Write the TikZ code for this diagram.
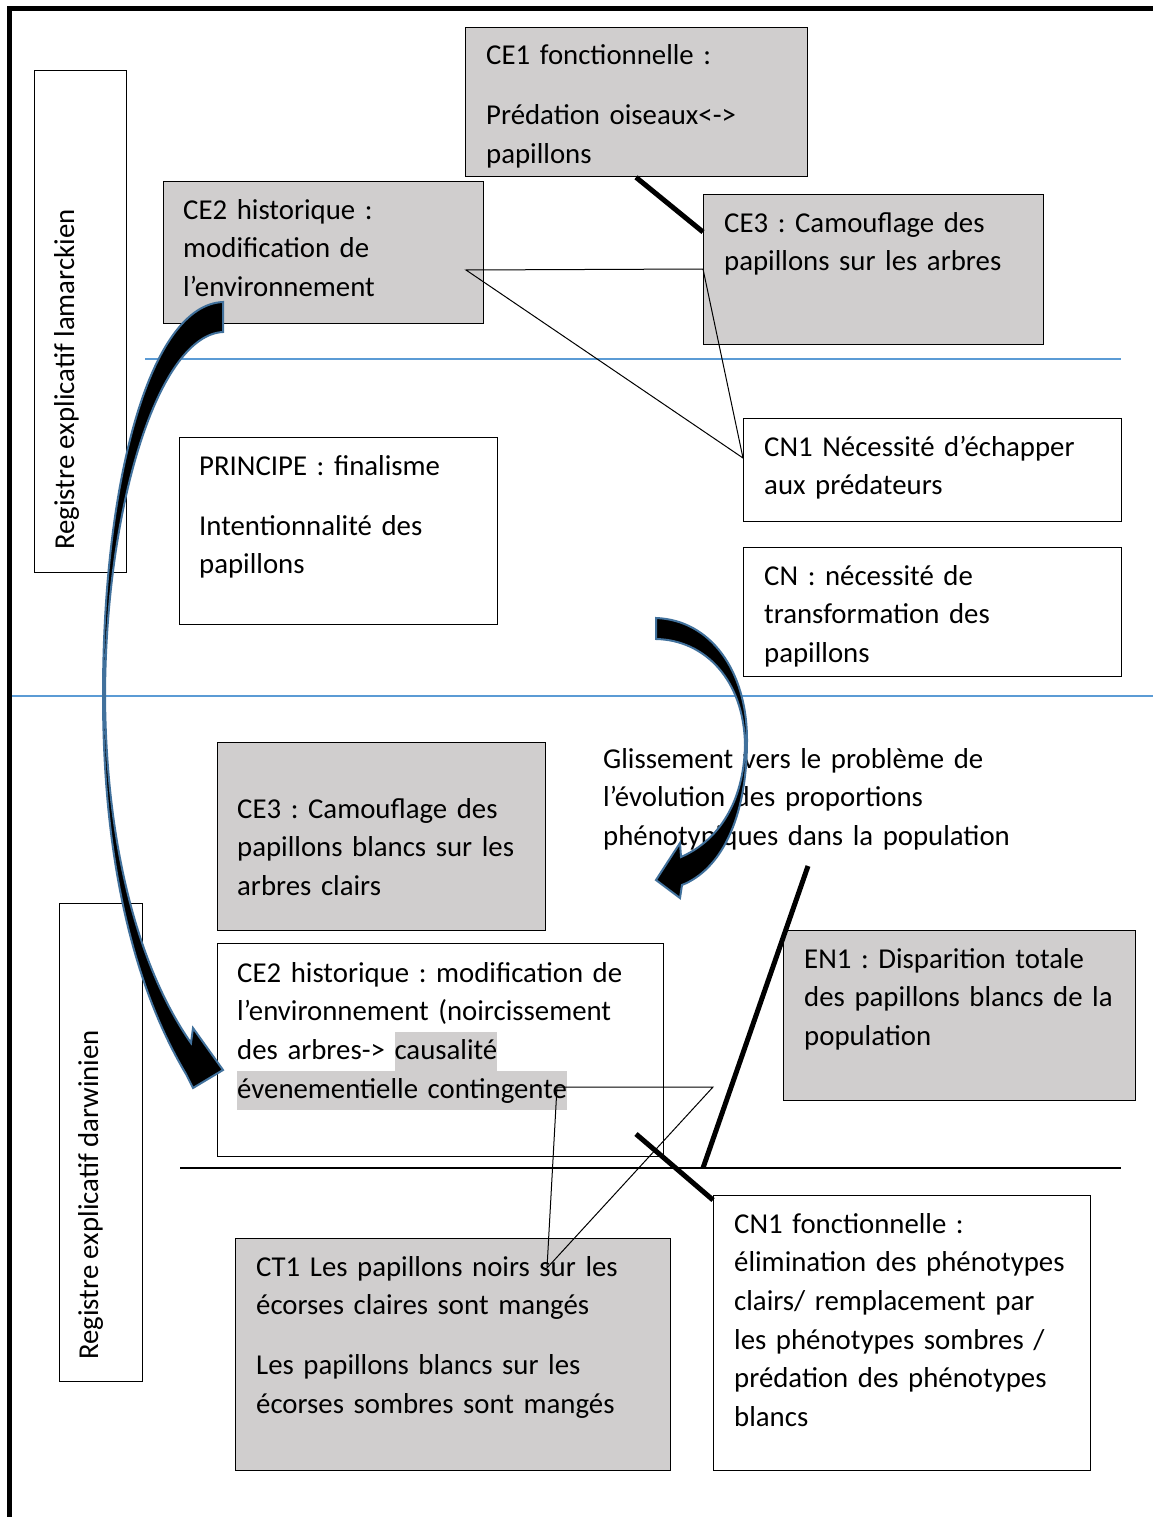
\documentclass[tikz,border=0pt]{standalone}
\usepackage{fontspec}
\setmainfont{Carlito}
\usetikzlibrary{calc}
\definecolor{boxgray}{HTML}{D0CECE}
\definecolor{sepblue}{HTML}{5B9BD5}
\definecolor{arrowblue}{HTML}{41719C}
\newcommand\dfont{\fontsize{28.8}{38.7}\selectfont\frenchspacing}
\newcommand\hlgray[1]{{\setlength{\fboxsep}{0pt}\colorbox{boxgray}{\strut #1}}}
\begin{document}
\begin{tikzpicture}[x=1pt,y=-1pt,
 gbox/.style={draw=black, line width=1.3pt, fill=boxgray, anchor=north west, inner sep=0},
 wbox/.style={draw=black, line width=1.3pt, fill=white, anchor=north west, inner sep=0},
 txt/.style={anchor=base west, inner sep=0, font=\dfont, align=left, text width=460pt},
 thinline/.style={line width=1pt},
 thickline/.style={line width=5pt},
 sepline/.style={draw=sepblue, line width=1.3pt},
 barrow/.style={fill=black, draw=arrowblue, line width=2pt, line join=miter}]

\useasboundingbox (0,0) rectangle (1153,1517);
\fill[white] (0,0) rectangle (1153,1517);

% outer frame
\draw[line width=5pt, line join=miter] (9.5,1517) -- (9.5,8.5) -- (1153,8.5);

% separator lines
\coordinate (s1a) at (145,359); \coordinate (s1b) at (1121,359);
\coordinate (s2a) at (12,696);  \coordinate (s2b) at (1153,696);
\coordinate (s3a) at (180,1168); \coordinate (s3b) at (1121,1168);
\draw[sepline] (s1a) -- (s1b);
\draw[sepline] (s2a) -- (s2b);
\draw[line width=1.3pt] (s3a) -- (s3b);

% side boxes
\node[wbox, minimum width=92, minimum height=502] (lam) at (34,70) {};
\node[txt, text width=, rotate=90] (lamt) at (74,550) {Registre explicatif lamarckien};
\node[wbox, minimum width=83, minimum height=478] (dar) at (59,903) {};
\node[txt, text width=, rotate=90] (dart) at (98,1360) {Registre explicatif darwinien};

% boxes
\node[gbox, minimum width=342, minimum height=149] (ce1) at (465,27) {};
\node[gbox, minimum width=320, minimum height=142] (ce2) at (163,181) {};
\node[gbox, minimum width=340, minimum height=150] (ce3) at (703,194) {};
\node[wbox, minimum width=318, minimum height=187] (princ) at (179,437) {};
\node[wbox, minimum width=378, minimum height=103] (cn1) at (743,418) {};
\node[wbox, minimum width=378, minimum height=129] (cn) at (743,547) {};
\node[gbox, minimum width=328, minimum height=188] (ce3d) at (217,742) {};
\node[wbox, minimum width=446, minimum height=213] (ce2d) at (217,943) {};
\node[gbox, minimum width=352, minimum height=170] (en1) at (783,930) {};
\node[gbox, minimum width=435, minimum height=232] (ct1) at (235,1238) {};
\node[wbox, minimum width=377, minimum height=275] (cn1f) at (713,1195) {};

% texts
\node[txt] (ce1t) at (486,65) {CE1 fonctionnelle :\\[21.3pt]Prédation oiseaux<->\\papillons};
\node[txt] (ce2t) at (183,219) {CE2 historique :\\modification de\\l’environnement};
\node[txt] (ce3t) at (724,232) {CE3 : Camouflage des\\papillons sur les arbres};
\node[txt] (princt) at (199,475) {PRINCIPE : finalisme\\[21.3pt]Intentionnalité des\\papillons};
\node[txt] (cn1t) at (764,456) {CN1 Nécessité d’échapper\\aux prédateurs};
\node[txt] (cnt) at (764,585) {CN : nécessité de\\transformation des\\papillons};
\node[txt] (glis) at (603,768) {Glissement vers le problème de\\l’évolution des proportions\\phénotypiques dans la population};
\node[txt] (ce3dt) at (237,818) {CE3 : Camouflage des\\papillons blancs sur les\\arbres clairs};
\node[txt] (ce2dt) at (237,982) {CE2 historique : modification de\\l’environnement (noircissement\\des arbres-> \hlgray{causalité}\\\hlgray{évenementielle contingente}};
\node[txt] (en1t) at (804,968) {EN1 : Disparition totale\\des papillons blancs de la\\population};
\node[txt] (ct1t) at (256,1276) {CT1 Les papillons noirs sur les\\écorses claires sont mangés\\[21.3pt]Les papillons blancs sur les\\écorses sombres sont mangés};
\node[txt] (cn1ft) at (734,1233) {CN1 fonctionnelle :\\élimination des phénotypes\\clairs/ remplacement par\\les phénotypes sombres /\\prédation des phénotypes\\blancs};

% connectors (top)
\coordinate (t1) at ($(ce2.north west)+(303,89)$);
\coordinate (t2) at ($(ce3.north west)+(0,75)$);
\coordinate (t3) at ($(cn1.north west)+(0,40)$);
\draw[thinline] (t1) -- (t2) -- (t3) -- cycle;
\draw[thickline] ($(ce1.south west)+(171,0)$) -- ($(ce3.north west)+(0,38)$);

% connectors (bottom)
\coordinate (b1) at ($(ce2d.north west)+(340,144)$);
\coordinate (b2) at (713,1087);
\coordinate (b3) at ($(ct1.north west)+(312,30)$);
\draw[thinline] (b1) -- (b2) -- (b3) -- cycle;
\draw[thickline] ($(ce2d.north west)+(419,191)$) -- ($(cn1f.north west)+(0,5)$);
\coordinate (k1) at (703,1168);
\coordinate (k2) at (808,866);
\draw[thickline] (k1) -- (k2);

% curved block arrows
\filldraw[barrow] (223,302) .. controls (150,305) and (103,480) .. (103,695)
  .. controls (103,850) and (130,980) .. (186,1074)
  -- (193,1088) -- (223,1070) -- (193,1028) -- (191,1043)
  .. controls (140,970) and (106,850) .. (105,695)
  .. controls (106,500) and (160,335) .. (223,332) -- cycle;

\filldraw[barrow] (656,618) .. controls (710,620) and (747,670) .. (747,740)
  .. controls (747,820) and (720,870) .. (682,885)
  -- (680,898) -- (656,880) -- (680,843) -- (681,857)
  .. controls (720,840) and (744,800) .. (745,745)
  .. controls (744,680) and (705,640) .. (656,639) -- cycle;

\end{tikzpicture}
\end{document}
